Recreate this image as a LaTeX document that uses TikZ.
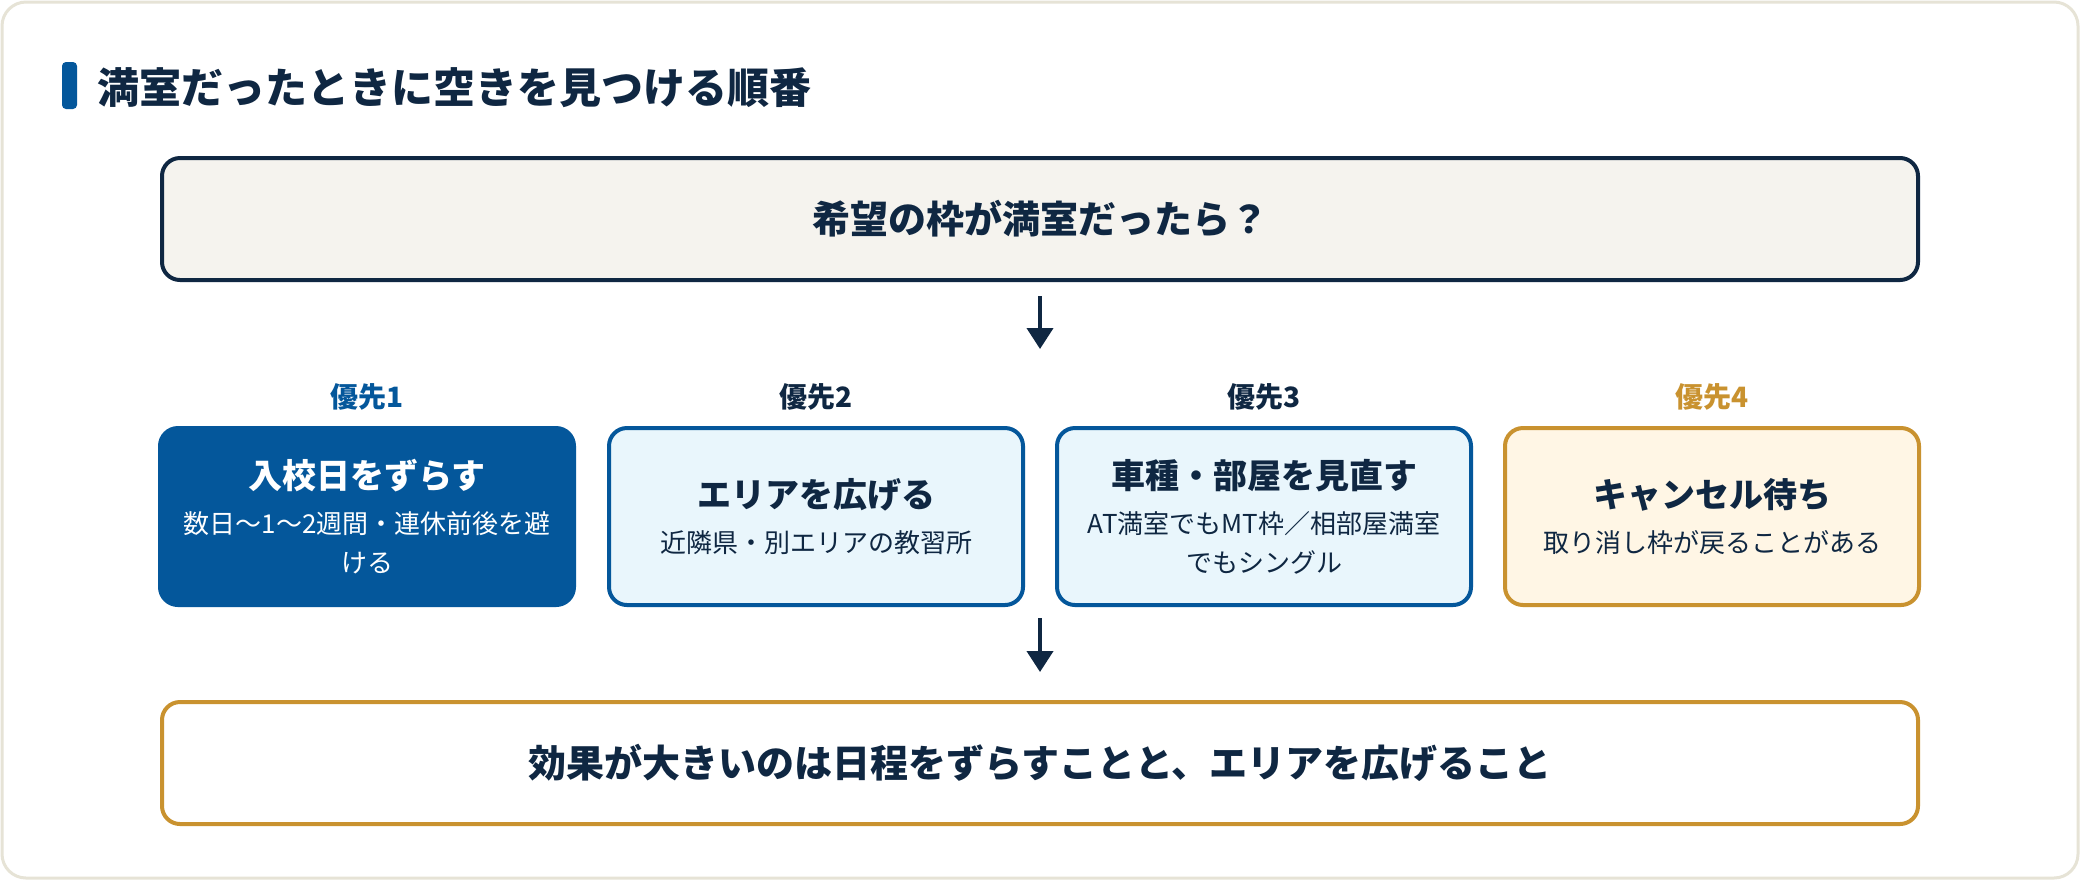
\documentclass[tikz,border=0pt]{standalone}
\usepackage{fontspec}
\setmainfont{Noto Sans CJK JP}
\usetikzlibrary{arrows.meta}
\definecolor{navy}{HTML}{0F2742}
\definecolor{prioblue}{HTML}{04579B}
\definecolor{skyfill}{HTML}{E9F6FC}
\definecolor{gold}{HTML}{C9922F}
\definecolor{creamfill}{HTML}{FFF6E5}
\definecolor{greyfill}{HTML}{F5F3EE}
\definecolor{cardline}{HTML}{E6E3D6}
\newcommand{\optbox}[2]{{\fontsize{17}{22}\selectfont\bfseries #1\par}\vspace{3.5pt}{\fontsize{13}{19.25}\selectfont #2\par}}

\begin{document}
\begin{tikzpicture}[x=0.5pt,y=-0.5pt,
  every node/.style={text=navy},
  wide/.style={draw=navy,line width=2pt,rounded corners=9pt,minimum width=878pt,minimum height=61pt,font=\fontsize{19}{24}\selectfont\bfseries},
  optn/.style={line width=2pt,rounded corners=9pt,minimum width=207pt,minimum height=88.5pt,text width=190pt,align=center,inner sep=0pt},
  plabel/.style={font=\fontsize{14}{17}\selectfont\bfseries},
  flow/.style={draw=navy,line width=2pt,-{Triangle[width=13pt,length=10.5pt]}}]
  \useasboundingbox (0,0) rectangle (2080,880);
  \draw[cardline,line width=1.5pt,fill=white,rounded corners=12pt] (2,2) rectangle (2078,878);
  \fill[prioblue,rounded corners=2pt] (62,62) rectangle (77,109);
  \node[anchor=west,font=\fontsize{21}{26}\selectfont\bfseries] (ttl) at (90,88) {満室だったときに空きを見つける順番};
  \node[wide,fill=greyfill] (top) at (1040,219) {希望の枠が満室だったら？};
  \coordinate (a1e) at (1040,349);
  \draw[flow,shorten <=7pt] (top) -- (a1e);
  % priority row
  \node[plabel,text=prioblue] (p1) at (367,397) {優先1};
  \node[plabel] (p2) at (816,397) {優先2};
  \node[plabel] (p3) at (1264,397) {優先3};
  \node[plabel,text=gold] (p4) at (1712,397) {優先4};
  \node[optn,fill=prioblue,draw=prioblue,text=white] (o1) at (367,516.5) {\optbox{入校日をずらす}{数日〜1〜2週間・連休前後を避\\ける}};
  \node[optn,fill=skyfill,draw=prioblue] (o2) at (816,516.5) {\optbox{エリアを広げる}{近隣県・別エリアの教習所}};
  \node[optn,fill=skyfill,draw=prioblue] (o3) at (1264,516.5) {\optbox{車種・部屋を見直す}{AT満室でもMT枠／相部屋満室\\でもシングル}};
  \node[optn,fill=creamfill,draw=gold] (o4) at (1712,516.5) {\optbox{キャンセル待ち}{取り消し枠が戻ることがある}};
  \coordinate (a2s) at (1040,618);
  \node[wide,draw=gold,fill=white] (bottom) at (1040,763) {効果が大きいのは日程をずらすことと、エリアを広げること};
  \draw[flow,shorten >=14pt] (a2s) -- (bottom);
\end{tikzpicture}
\end{document}
